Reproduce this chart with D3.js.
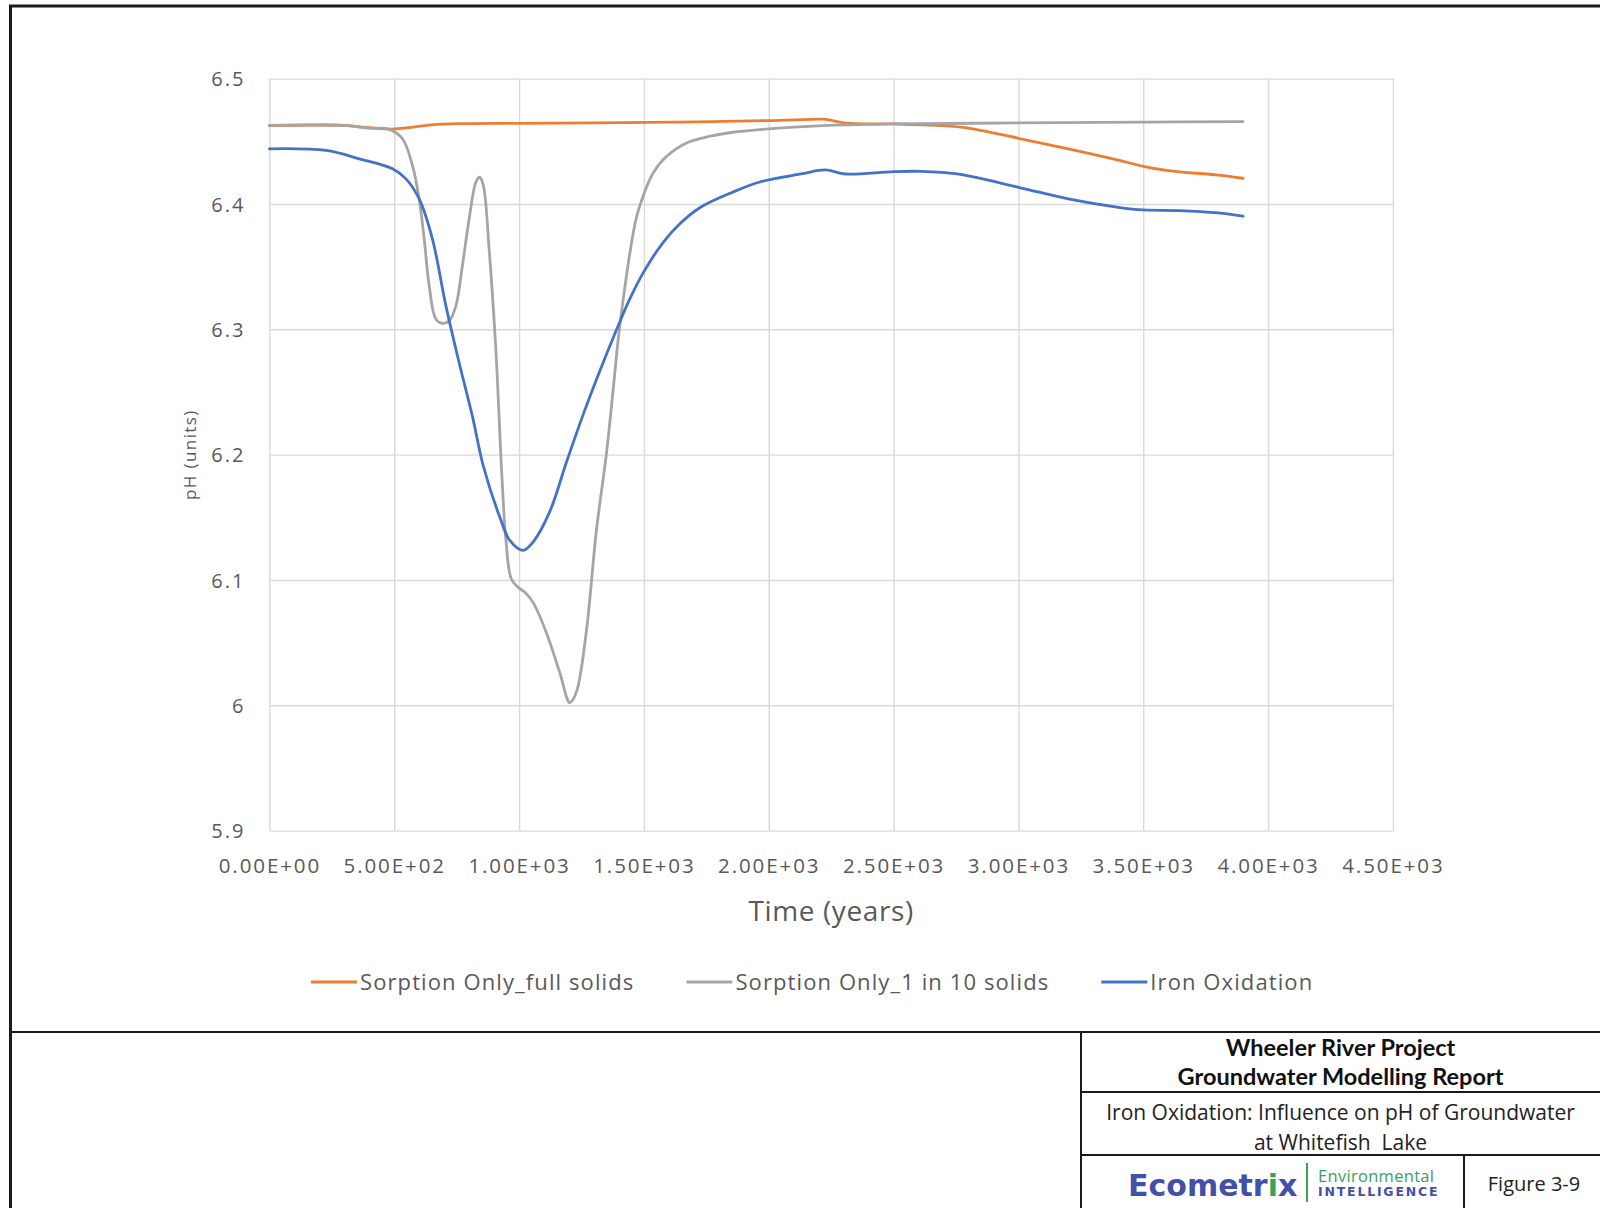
<!DOCTYPE html>
<html><head><meta charset="utf-8">
<script src="https://cdn.jsdelivr.net/npm/d3@7/dist/d3.min.js"></script>
<style>body{margin:0;background:#fff}svg{display:block}</style>
</head><body>
<svg id="c" width="1600" height="1208"></svg>
<script>
// ---------- data ----------
const xTickValues = [0, 500, 1000, 1500, 2000, 2500, 3000, 3500, 4000, 4500];
const xTickLabels = ["0.00E+00","5.00E+02","1.00E+03","1.50E+03","2.00E+03","2.50E+03","3.00E+03","3.50E+03","4.00E+03","4.50E+03"];
const yTickValues = [5.9, 6.0, 6.1, 6.2, 6.3, 6.4, 6.5];
const yTickLabels = ["5.9","6","6.1","6.2","6.3","6.4","6.5"];
const seriesNames = ["Sorption Only_full solids", "Sorption Only_1 in 10 solids", "Iron Oxidation"];

const fullSolidsYears = [0, 300, 400, 490, 540, 650, 760, 1000, 1300, 1640, 2000, 2200, 2230, 2310, 2500, 2700, 2800, 3000, 3200, 3400, 3500, 3600, 3800, 3900];
const fullSolidsPH    = [6.4625, 6.4627, 6.4608, 6.4597, 6.4605, 6.4630, 6.4640, 6.4643, 6.4646, 6.4653, 6.4665, 6.4676, 6.4675, 6.4645, 6.4638, 6.4625, 6.4605, 6.4524, 6.4440, 6.4350, 6.4300, 6.4266, 6.4230, 6.4205];

const tenthSolidsYears = [0, 290, 400, 480, 533, 573, 600, 620, 640, 667, 693, 720, 747, 773, 800, 827, 842, 857, 880, 907, 929, 947, 969, 996, 1023, 1056, 1109, 1163, 1203, 1229, 1269, 1309, 1350, 1376, 1396, 1420, 1444, 1471, 1500, 1537, 1591, 1671, 1764, 1857, 1964, 2218, 2500, 3000, 3500, 3900];
const tenthSolidsPH    = [6.4627, 6.4627, 6.4605, 6.4595, 6.4520, 6.4307, 6.4040, 6.3720, 6.3347, 6.3080, 6.3048, 6.3067, 6.3187, 6.3507, 6.3880, 6.4173, 6.4213, 6.4147, 6.3640, 6.2840, 6.1915, 6.1328, 6.1008, 6.0941, 6.0901, 6.0821, 6.0581, 6.0261, 6.0021, 6.0101, 6.0581, 6.1381, 6.2010, 6.2500, 6.2900, 6.3280, 6.3610, 6.3900, 6.4080, 6.4247, 6.4380, 6.4487, 6.4540, 6.4572, 6.4593, 6.4625, 6.4638, 6.4646, 6.4652, 6.4657];

const ironYears = [0, 227, 360, 493, 547, 600, 653, 707, 760, 813, 856, 923, 963, 1016, 1056, 1123, 1189, 1256, 1323, 1389, 1443, 1500, 1576, 1643, 1724, 1857, 1964, 2129, 2227, 2307, 2500, 2611, 2754, 3000, 3200, 3400, 3500, 3646, 3800, 3900];
const ironPH    = [6.4440, 6.4427, 6.4360, 6.4280, 6.4200, 6.4040, 6.3720, 6.3187, 6.2733, 6.2307, 6.1915, 6.1500, 6.1315, 6.1236, 6.1302, 6.1545, 6.1935, 6.2315, 6.2665, 6.2990, 6.3240, 6.3460, 6.3690, 6.3840, 6.3970, 6.4095, 6.4175, 6.4239, 6.4271, 6.4239, 6.4258, 6.4260, 6.4239, 6.4133, 6.4040, 6.3973, 6.3952, 6.3947, 6.3928, 6.3902];

const seriesColors = ["#ED7D31", "#A5A5A5", "#4472C4"];

// ---------- layout ----------
const svg = d3.select("#c");
svg.append("rect").attr("width",1600).attr("height",1208).attr("fill","#fff");

const L = 269.4, R = 1392.9, T = 78.6, B = 830.6;
const x = d3.scaleLinear().domain([0, 4500]).range([L, R]);
const y = d3.scaleLinear().domain([5.9, 6.5]).range([B, T]);

const chartFont = "'Open Sans', sans-serif";
const textGray = "#595959";
const gridColor = "#d9d9d9";

// horizontal gridlines + y labels
const yAxis = d3.axisLeft(y).tickValues(yTickValues)
  .tickFormat((d,i) => yTickLabels[i])
  .tickSize(-(R - L)).tickPadding(24);
const gy = svg.append("g").attr("transform", `translate(${L},0)`).call(yAxis);
gy.select(".domain").remove();
gy.selectAll(".tick line").attr("stroke", gridColor).attr("stroke-width", 1.4);
gy.selectAll(".tick text").attr("fill", textGray).attr("font-family", chartFont)
  .attr("font-size", 20).attr("letter-spacing", "2px").attr("dy", "0.36em");

// vertical gridlines + x labels
const xAxis = d3.axisBottom(x).tickValues(xTickValues)
  .tickFormat((d,i) => xTickLabels[i])
  .tickSize(-(B - T)).tickPadding(28);
const gx = svg.append("g").attr("transform", `translate(0,${B})`).call(xAxis);
gx.select(".domain").remove();
gx.selectAll(".tick line").attr("stroke", gridColor).attr("stroke-width", 1.4);
gx.selectAll(".tick text").attr("fill", textGray).attr("font-family", chartFont)
  .attr("font-size", 20.5).attr("letter-spacing", "1.9px");

// axis titles
svg.append("text").attr("x", (L + R) / 2).attr("y", 911).attr("dy", "0.35em")
  .attr("text-anchor", "middle").attr("fill", textGray).attr("font-family", chartFont)
  .attr("font-size", 28).attr("letter-spacing", "0.6px").text("Time (years)");
svg.append("text").attr("transform", `translate(190,${(T + B) / 2}) rotate(-90)`)
  .attr("dy", "0.35em").attr("text-anchor", "middle").attr("fill", textGray)
  .attr("font-family", chartFont).attr("font-size", 17).attr("letter-spacing", "1.4px")
  .text("pH (units)");

// series
const seriesData = [
  d3.zip(fullSolidsYears, fullSolidsPH),
  d3.zip(tenthSolidsYears, tenthSolidsPH),
  d3.zip(ironYears, ironPH)
];
const line = d3.line().x(d => x(d[0])).y(d => y(d[1])).curve(d3.curveCatmullRom.alpha(0.5));
seriesData.forEach((s, i) => {
  svg.append("path").attr("d", line(s)).attr("fill", "none")
    .attr("stroke", seriesColors[i]).attr("stroke-width", 2.8)
    .attr("stroke-linejoin", "round").attr("stroke-linecap", "round");
});

// legend
const legend = svg.append("g");
let lx = 311;
const ly = 982;
seriesNames.forEach((name, i) => {
  legend.append("line").attr("x1", lx).attr("x2", lx + 46).attr("y1", ly).attr("y2", ly)
    .attr("stroke", seriesColors[i]).attr("stroke-width", 3);
  const t = legend.append("text").attr("x", lx + 49).attr("y", ly).attr("dy", "0.35em")
    .attr("fill", textGray).attr("font-family", chartFont).attr("font-size", 22)
    .attr("letter-spacing", "1.1px").text(name);
  lx = lx + 49 + t.node().getComputedTextLength() + 52;
});

// ---------- frame / title block ----------
const frame = svg.append("g").attr("stroke", "#1a1a1a").attr("fill", "none");
frame.append("line").attr("x1", 10.5).attr("x2", 10.5).attr("y1", 5).attr("y2", 1208).attr("stroke-width", 3);
frame.append("line").attr("x1", 9).attr("x2", 1600).attr("y1", 6).attr("y2", 6).attr("stroke-width", 3);
frame.append("line").attr("x1", 10).attr("x2", 1600).attr("y1", 1032).attr("y2", 1032).attr("stroke-width", 2);
frame.append("line").attr("x1", 1081).attr("x2", 1081).attr("y1", 1032).attr("y2", 1208).attr("stroke-width", 2);
frame.append("line").attr("x1", 1081).attr("x2", 1600).attr("y1", 1092).attr("y2", 1092).attr("stroke-width", 2);
frame.append("line").attr("x1", 1081).attr("x2", 1600).attr("y1", 1155).attr("y2", 1155).attr("stroke-width", 2);
frame.append("line").attr("x1", 1464).attr("x2", 1464).attr("y1", 1155).attr("y2", 1208).attr("stroke-width", 2);

const boxCx = (1081 + 1600) / 2;
const titleFont = "Lato, 'Open Sans', sans-serif";
function tb(txt, cx, cy, size, weight, fam, color) {
  return svg.append("text").attr("x", cx).attr("y", cy).attr("dy", "0.35em")
    .attr("text-anchor", "middle").attr("font-family", fam).attr("font-size", size)
    .attr("font-weight", weight).attr("fill", color || "#111").text(txt);
}
tb("Wheeler River Project", boxCx, 1048, 23.5, 700, titleFont);
tb("Groundwater Modelling Report", boxCx, 1077, 23.5, 700, titleFont);
tb("Iron Oxidation: Influence on pH of Groundwater", boxCx, 1113, 21, 400, chartFont, "#222");
tb("at Whitefish\u00a0\u00a0Lake", boxCx, 1143, 21, 400, chartFont, "#222");
tb("Figure 3-9", 1534, 1184, 20, 400, chartFont, "#222");

// logo
const logo = svg.append("text").attr("x", 1128).attr("y", 1196)
  .attr("font-family", "'DejaVu Sans', sans-serif").attr("font-weight", 700)
  .attr("font-size", 30).attr("fill", "#4350a8");
logo.append("tspan").text("Ecometr");
logo.append("tspan").attr("fill", "#3aa35a").text("i");
logo.append("tspan").text("x");
svg.append("line").attr("x1", 1307).attr("x2", 1307).attr("y1", 1163).attr("y2", 1202)
  .attr("stroke", "#3aa35a").attr("stroke-width", 2);
svg.append("text").attr("x", 1318).attr("y", 1182).attr("font-family", chartFont)
  .attr("font-size", 16.5).attr("letter-spacing", "0.3px").attr("fill", "#3a9e5c").text("Environmental");
svg.append("text").attr("x", 1318).attr("y", 1196).attr("font-family", "'DejaVu Sans', sans-serif")
  .attr("font-weight", 700).attr("font-size", 12.5).attr("letter-spacing", "1.8px")
  .attr("fill", "#4350a8").text("INTELLIGENCE");
</script>
</body></html>
